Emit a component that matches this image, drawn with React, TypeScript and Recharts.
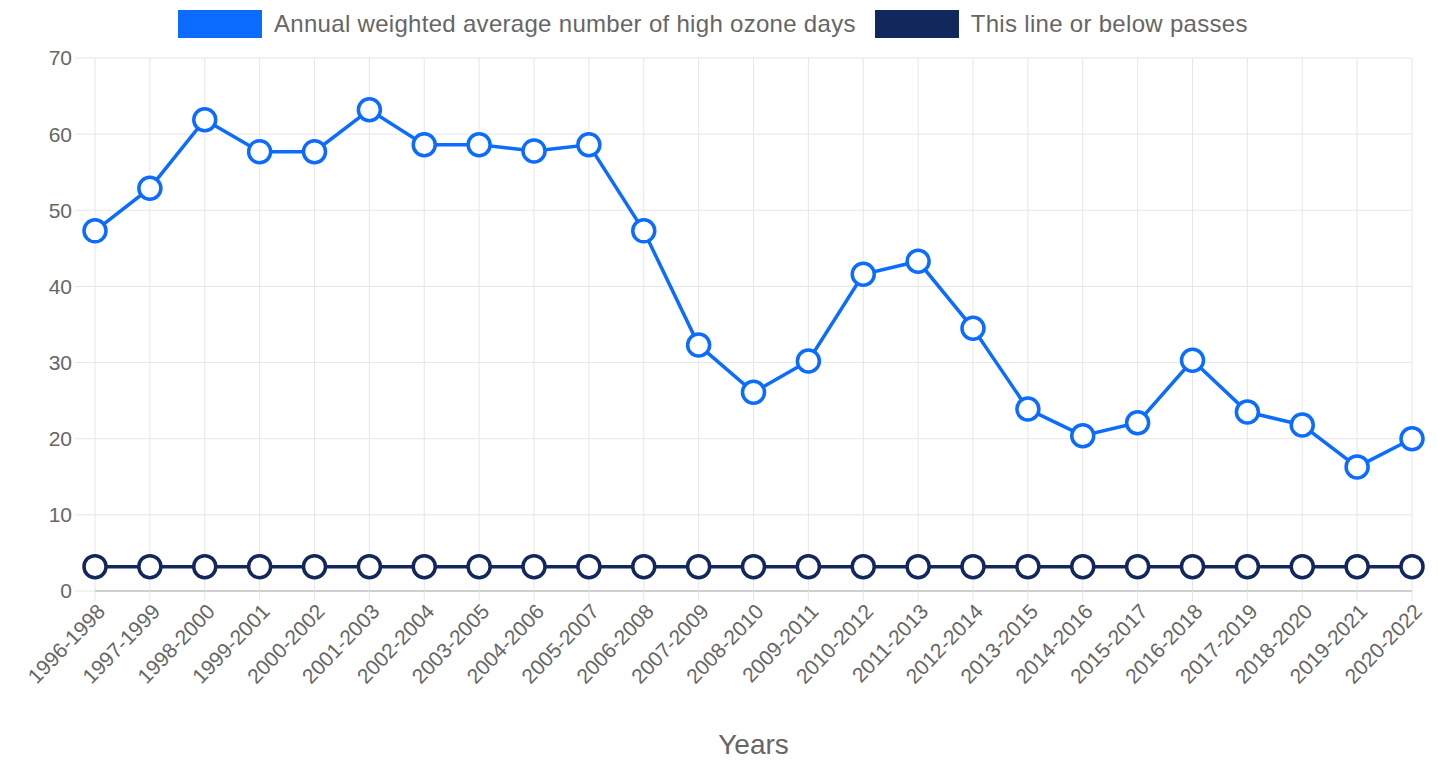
import React from 'react';
import {
  LineChart,
  Line,
  XAxis,
  YAxis,
  CartesianGrid,
  Label,
} from 'recharts';

const years = [
  '1996-1998', '1997-1999', '1998-2000', '1999-2001', '2000-2002', '2001-2003',
  '2002-2004', '2003-2005', '2004-2006', '2005-2007', '2006-2008', '2007-2009',
  '2008-2010', '2009-2011', '2010-2012', '2011-2013', '2012-2014', '2013-2015',
  '2014-2016', '2015-2017', '2016-2018', '2017-2019', '2018-2020', '2019-2021',
  '2020-2022',
];

const ozoneDays = [
  47.3, 52.9, 61.9, 57.7, 57.7, 63.2, 58.6, 58.6, 57.8, 58.6, 47.3, 32.3,
  26.1, 30.2, 41.6, 43.3, 34.5, 23.9, 20.4, 22.1, 30.3, 23.5, 21.8, 16.3, 20.0,
];

const passLine = years.map(() => 3.2);

const yTicks = [0, 10, 20, 30, 40, 50, 60, 70];

const BLUE = '#0b6cff';
const NAVY = '#12275b';
const TEXT = '#666';
const FONT = '"Liberation Sans", Arial, sans-serif';

const data = years.map((year, i) => ({
  year,
  ozone: ozoneDays[i],
  pass: passLine[i],
}));

const legendItems = [
  { label: 'Annual weighted average number of high ozone days', color: BLUE },
  { label: 'This line or below passes', color: NAVY },
];

const TopLegend = () => (
  <div
    style={{
      position: 'absolute',
      left: 170,
      top: 2,
      height: 28,
      display: 'flex',
      alignItems: 'center',
      gap: 19,
      fontFamily: FONT,
      whiteSpace: 'nowrap',
    }}
  >
    {legendItems.map((item) => (
      <div key={item.label} style={{ display: 'flex', alignItems: 'center' }}>
        <span
          style={{
            display: 'inline-block',
            width: 84,
            height: 28,
            background: item.color,
            marginRight: 12,
          }}
        />
        <span style={{ color: TEXT, fontSize: 24, letterSpacing: 0.3 }}>{item.label}</span>
      </div>
    ))}
  </div>
);

const XTick = (props: any) => {
  const { x, y, payload } = props;
  return (
    <g transform={`translate(${x},${y})`}>
      <text
        x={0}
        y={0}
        dy={15}
        dx={1}
        textAnchor="end"
        transform="rotate(-46)"
        fill={TEXT}
        fontSize={21}
        fontFamily={FONT}
      >
        {payload.value}
      </text>
    </g>
  );
};

export default function App() {
  return (
    <div style={{ position: 'relative', width: 1422, height: 753 }}>
      <TopLegend />
      <LineChart
        width={1422}
        height={753}
        data={data}
        margin={{ top: 50, right: 18, left: 0, bottom: 0 }}
      >
        <CartesianGrid stroke="#e6e6e6" />
        <XAxis
          dataKey="year"
          interval={0}
          height={170}
          tick={<XTick />}
          tickSize={10}
          tickLine={{ stroke: '#e6e6e6' }}
          axisLine={{ stroke: '#cfcfcf', strokeWidth: 2 }}
        >
          <Label
            value="Years"
            position="insideBottom"
            offset={7}
            fill={TEXT}
            fontSize={28}
            fontFamily={FONT}
          />
        </XAxis>
        <YAxis
          domain={[0, 70]}
          ticks={yTicks}
          width={87}
          tickSize={20}
          tickMargin={3}
          tickLine={{ stroke: '#e6e6e6' }}
          axisLine={false}
          tick={{ fill: TEXT, fontSize: 21, fontFamily: FONT }}
        />
        <Line
          dataKey="pass"
          stroke={NAVY}
          strokeWidth={3.5}
          dot={{ r: 11, fill: '#fff', stroke: NAVY, strokeWidth: 3.5 }}
          activeDot={false}
          isAnimationActive={false}
        />
        <Line
          dataKey="ozone"
          stroke={BLUE}
          strokeWidth={3.5}
          dot={{ r: 11, fill: '#fff', stroke: BLUE, strokeWidth: 3.5 }}
          activeDot={false}
          isAnimationActive={false}
        />
      </LineChart>
    </div>
  );
}
